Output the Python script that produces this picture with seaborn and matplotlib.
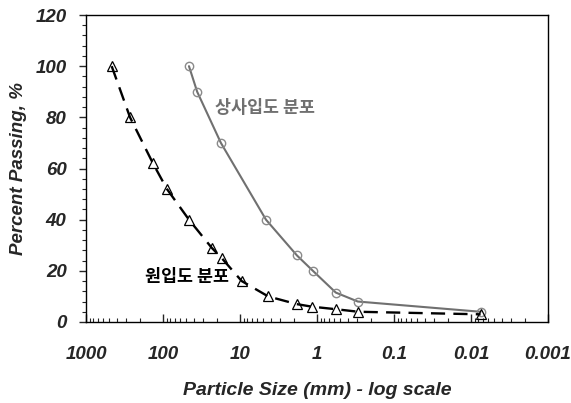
import matplotlib
matplotlib.use("Agg")
import matplotlib.pyplot as plt
import matplotlib.ticker as mticker
import numpy as np
import pandas as pd
import seaborn as sns

# Grain size distributions (particle size in mm, percent passing)
scaled_size = [46, 36, 17.7, 4.6, 1.82, 1.13, 0.57, 0.295, 0.0075]
scaled_pass = [100, 90, 70, 40, 26, 20, 11.5, 8, 4]

orig_size = [464, 268, 135, 89, 46, 23.3, 17.3, 9.5, 4.3, 1.84, 1.17, 0.57, 0.29, 0.0075]
orig_pass = [100, 80, 62, 52, 40, 29, 25, 16, 10, 7, 6, 5, 4, 3]

scaled_label = "상사입도 분포"
orig_label = "원입도 분포"

x_ticks = [1000, 100, 10, 1, 0.1, 0.01, 0.001]
x_tick_labels = ["1000", "100", "10", "1", "0.1", "0.01", "0.001"]
y_ticks = [0, 20, 40, 60, 80, 100, 120]

df_scaled = pd.DataFrame({"size": scaled_size, "passing": scaled_pass})
df_orig = pd.DataFrame({"size": orig_size, "passing": orig_pass})

sns.set_style("white")
plt.rcParams["font.family"] = ["Liberation Sans", "Noto Sans CJK KR", "DejaVu Sans"]

fig = plt.figure(figsize=(5.71, 4.03), dpi=100)
ax = fig.add_axes([86 / 571, 1 - 322 / 403, 462 / 571, 307 / 403])

sns.lineplot(data=df_scaled, x="size", y="passing", ax=ax, color="#707070",
             linewidth=1.5, marker="o", markersize=6, markerfacecolor="none",
             markeredgecolor="#8a8a8a", markeredgewidth=1.0, sort=False)
sns.lineplot(data=df_orig, x="size", y="passing", ax=ax, color="black",
             linewidth=1.7, marker="^", markersize=7.5, markerfacecolor="none",
             markeredgecolor="black", markeredgewidth=0.9, sort=False,
             dashes=False)
ax.lines[-1].set_dashes([6, 3.5])

ax.set_xscale("log")
ax.set_xlim(1000, 0.001)
ax.set_ylim(0, 120)

ax.set_xticks(x_ticks)
ax.set_xticklabels(x_tick_labels)
ax.xaxis.set_minor_locator(mticker.LogLocator(base=10, subs=np.arange(2, 10)))
ax.xaxis.set_minor_formatter(mticker.NullFormatter())
ax.set_yticks(y_ticks)
ax.yaxis.set_minor_locator(mticker.MultipleLocator(4))

for lbl in ax.get_xticklabels() + ax.get_yticklabels():
    lbl.set_fontsize(13.5)
    lbl.set_fontweight("bold")
    lbl.set_fontstyle("italic")

ax.tick_params(axis="x", which="major", direction="in", length=6, width=1,
               pad=17, bottom=True, top=False)
ax.tick_params(axis="x", which="minor", direction="in", length=3, width=0.8,
               bottom=True, top=False)
ax.tick_params(axis="y", which="major", direction="out", length=5, width=1,
               pad=9, left=True, right=False)
ax.tick_params(axis="y", which="minor", direction="out", length=3, width=0.8,
               left=True, right=False)

ax.set_xlabel("Particle Size (mm) - log scale", fontsize=14, fontweight="bold",
              fontstyle="italic", labelpad=14)
ax.set_ylabel("Percent Passing, %", fontsize=13.5, fontweight="bold",
              fontstyle="italic", labelpad=6)

for sp in ax.spines.values():
    sp.set_visible(True)
    sp.set_color("black")
    sp.set_linewidth(1.0)

ax.text(0.280, 0.696, scaled_label, transform=ax.transAxes, fontsize=12.5,
        fontweight="bold", color="#707070", ha="left", va="center",
        family=["Noto Sans CJK KR", "DejaVu Sans"])
ax.text(0.127, 0.146, orig_label, transform=ax.transAxes, fontsize=12.5,
        fontweight="bold", color="black", ha="left", va="center",
        family=["Noto Sans CJK KR", "DejaVu Sans"])

fig.savefig("out.png", dpi=100, facecolor="white")
